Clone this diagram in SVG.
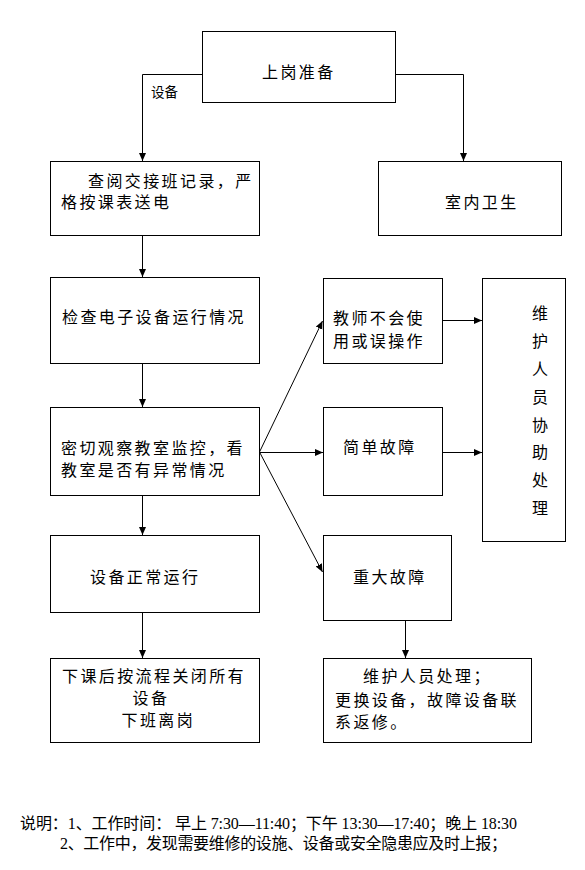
<svg xmlns="http://www.w3.org/2000/svg" width="585" height="870" viewBox="0 0 585 870">
<style>
.box{fill:#fff;stroke:#000;stroke-width:1}
.t{font-family:"Noto Sans CJK SC","Noto Sans",sans-serif;font-size:16px;letter-spacing:2.4px;fill:#000}
.tv{font-family:"Noto Sans CJK SC","Noto Sans",sans-serif;font-size:16px;fill:#000;text-anchor:middle}
.lbl{font-family:"Noto Sans CJK SC","Noto Sans",sans-serif;font-size:13.5px;fill:#000}
.note{font-family:"Liberation Serif","Noto Sans CJK SC",serif;font-size:16px;fill:#000}
.c{fill:none;stroke:#000;stroke-width:1}
</style>
<defs>
<marker id="ah" markerWidth="9" markerHeight="8" refX="8" refY="3.5" orient="auto" markerUnits="userSpaceOnUse">
<path d="M0,0 L8,3.5 L0,7 z" fill="#000"/>
</marker>
</defs>
<rect width="585" height="870" fill="#fff"/>

<g id="connectors">
<polyline class="c" points="202.5,74.5 142.5,74.5 142.5,161" marker-end="url(#ah)"/>
<polyline class="c" points="395.5,74.5 463.5,74.5 463.5,161" marker-end="url(#ah)"/>
<line class="c" x1="142.5" y1="235" x2="142.5" y2="277" marker-end="url(#ah)"/>
<line class="c" x1="142.5" y1="363" x2="142.5" y2="407" marker-end="url(#ah)"/>
<line class="c" x1="142.5" y1="495" x2="142.5" y2="535" marker-end="url(#ah)"/>
<line class="c" x1="142.5" y1="612" x2="142.5" y2="658" marker-end="url(#ah)"/>
<line class="c" x1="259.5" y1="452" x2="322.5" y2="321" marker-end="url(#ah)"/>
<line class="c" x1="259.5" y1="452.5" x2="323" y2="452.5" marker-end="url(#ah)"/>
<line class="c" x1="259.5" y1="452" x2="322.5" y2="572" marker-end="url(#ah)"/>
<line class="c" x1="442.5" y1="320.5" x2="482" y2="320.5" marker-end="url(#ah)"/>
<line class="c" x1="442.5" y1="452.5" x2="482" y2="452.5" marker-end="url(#ah)"/>
<line class="c" x1="405.5" y1="620" x2="405.5" y2="658" marker-end="url(#ah)"/>
<text class="lbl" x="151" y="97">设备</text>
</g>

<g id="n-start">
<rect class="box" x="202.5" y="31.5" width="193" height="71"/>
<text class="t" x="262" y="78">上岗准备</text>
</g>
<g id="n-check-record">
<rect class="box" x="50.5" y="161.5" width="209" height="74"/>
<text class="t" x="88" y="187">查阅交接班记录，严</text>
<text class="t" x="61" y="208">格按课表送电</text>
</g>
<g id="n-clean">
<rect class="box" x="378.5" y="161.5" width="183" height="74"/>
<text class="t" x="445" y="208">室内卫生</text>
</g>
<g id="n-check-device">
<rect class="box" x="50.5" y="277.5" width="209" height="86"/>
<text class="t" x="62" y="323">检查电子设备运行情况</text>
</g>
<g id="n-monitor">
<rect class="box" x="50.5" y="407.5" width="209" height="88"/>
<text class="t" x="61" y="454">密切观察教室监控，看</text>
<text class="t" x="61" y="476">教室是否有异常情况</text>
</g>
<g id="n-normal">
<rect class="box" x="50.5" y="535.5" width="209" height="77"/>
<text class="t" x="90" y="583">设备正常运行</text>
</g>
<g id="n-close">
<rect class="box" x="50.5" y="658.5" width="209" height="84"/>
<text class="t" x="62" y="682">下课后按流程关闭所有</text>
<text class="t" x="132.5" y="704">设备</text>
<text class="t" x="121.5" y="726">下班离岗</text>
</g>
<g id="n-teacher">
<rect class="box" x="323.5" y="278.5" width="119" height="85"/>
<text class="t" x="333" y="324">教师不会使</text>
<text class="t" x="333" y="347">用或误操作</text>
</g>
<g id="n-simple">
<rect class="box" x="323.5" y="407.5" width="119" height="88"/>
<text class="t" x="343" y="453">简单故障</text>
</g>
<g id="n-major">
<rect class="box" x="323.5" y="535.5" width="128" height="85"/>
<text class="t" x="353" y="583">重大故障</text>
</g>
<g id="n-assist">
<rect class="box" x="482.5" y="278.5" width="83" height="263"/>
<text class="tv" x="540" y="319">维</text>
<text class="tv" x="540" y="347">护</text>
<text class="tv" x="540" y="375">人</text>
<text class="tv" x="540" y="403">员</text>
<text class="tv" x="540" y="431">协</text>
<text class="tv" x="540" y="458">助</text>
<text class="tv" x="540" y="486">处</text>
<text class="tv" x="540" y="514">理</text>
</g>
<g id="n-repair">
<rect class="box" x="323.5" y="658.5" width="208" height="84"/>
<text class="t" x="363" y="682">维护人员处理；</text>
<text class="t" x="335" y="706">更换设备，故障设备联</text>
<text class="t" x="335" y="728">系返修。</text>
</g>

<g id="notes">
<text class="note" x="20" y="829" textLength="497" lengthAdjust="spacing">说明：1、工作时间： 早上 7:30—11:40；下午 13:30—17:40；晚上 18:30</text>
<text class="note" x="60" y="849" textLength="447" lengthAdjust="spacing">2、工作中，发现需要维修的设施、设备或安全隐患应及时上报；</text>
</g>
</svg>
